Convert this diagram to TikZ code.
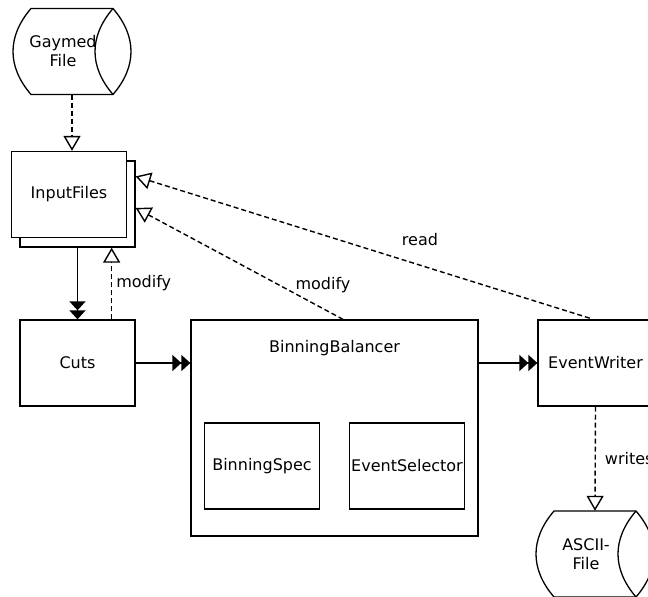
\documentclass[tikz,border=0pt]{standalone}
\usepackage{fontspec}
\setmainfont{DejaVu Sans}
\usetikzlibrary{arrows.meta,calc}

\begin{document}
\begin{tikzpicture}[x=1pt,y=-1pt,
  font=\fontsize{16}{19}\selectfont,
  box/.style={draw, line width=1.3pt, fill=white, inner sep=0pt,
    minimum width=115pt, minimum height=86pt, align=center},
  drumnode/.style={inner sep=0pt, minimum width=118pt, minimum height=86pt},
  drum/.style={line width=1.3pt, line join=round},
  lbl/.style={inner sep=0pt, align=center},
  dep/.style={line width=1.4pt, dash pattern=on 5pt off 3pt,
    -{Triangle[open, length=15pt, width=17pt]}},
  flow/.style={line width=1.4pt,
    -{Triangle[length=9pt, width=16pt]Triangle[length=9pt, width=16pt]}}
]
\useasboundingbox (0,0) rectangle (648,597);
\clip (0,0) rectangle (648,597);

% file drums
\node[drumnode] (gay) at (72,51.5) {};
\node[drumnode] (asc) at (595,554) {};
\foreach \d in {gay,asc}{
  \draw[drum, shift={(\d.center)}]
    (-41,-43) -- (41,-43) .. controls (65,-15) and (65,15) .. (41,43)
    -- (-41,43) .. controls (-65,15) and (-65,-15) .. (-41,-43) -- cycle;
  \draw[drum, shift={(\d.center)}]
    (41,-43) .. controls (17,-15) and (17,15) .. (41,43);
}
\node[lbl] (gaytext) at ($(gay.center)+(-9,0)$) {Gaymed\\File};
\node[lbl] (asctext) at ($(asc.center)+(-9,0)$) {ASCII-\\File};

% input files (stacked)
\node[box] (inpback) at (77.5,204) {};
\node[box] (inp) at (69,194.5) {InputFiles};

% processing chain
\node[box] (cuts) at (77.5,363) {Cuts};
\node[box, minimum width=287pt, minimum height=216pt] (bb) at (334.5,428) {};
\node[lbl] (bbtext) at ($(bb.north)+(0,29)$) {BinningBalancer};
\node[box] (spec) at (262,466) {BinningSpec};
\node[box] (sel) at (407,466) {EventSelector};
\node[box] (ew) at (595.5,363) {EventWriter};

% data flow
\draw[dep] (gay.south) -- (gay.south |- inp.north);
\draw[flow] (inpback.south) -- (cuts.north);
\draw[flow] (cuts.east) -- (cuts.east -| bb.west);
\draw[flow] (ew.west -| bb.east) -- (ew.west);

% dependencies
\coordinate (cutsmod) at ($(cuts.north east)+(-24,0)$);
\draw[dep] (cutsmod) -- (cutsmod |- inpback.south)
  node[midway, right, lbl, xshift=4pt] (modlbl1) {modify};
\draw[dep] ($(bb.north)+(8.5,0)$) -- ($(inpback.east)+(0,4)$);
\node[lbl] (modlbl2) at (323,285) {modify};
\draw[dep, shorten <=4pt] ($(ew.north)+(-2,0)$) -- ($(inpback.north east)+(0,16)$);
\node[lbl] (readlbl) at (420,240) {read};
\draw[dep] (ew.south) -- (asc.north)
  node[midway, right, lbl, xshift=9pt] (writeslbl) {writes};
\end{tikzpicture}
\end{document}
